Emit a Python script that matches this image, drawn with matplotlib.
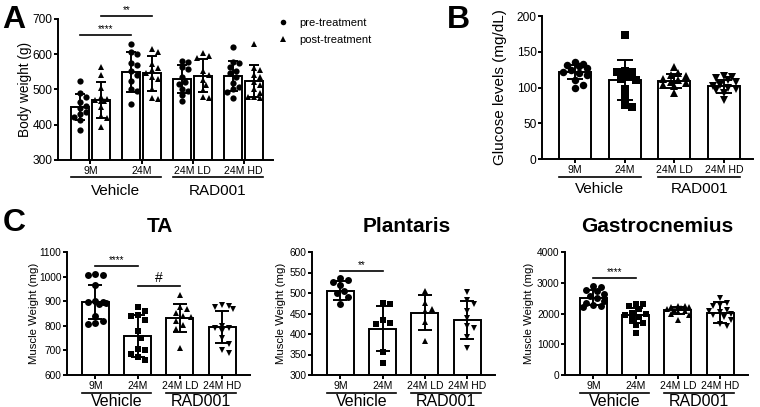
import numpy as np
import matplotlib
matplotlib.use("Agg")
import matplotlib.pyplot as plt
from matplotlib.lines import Line2D
from matplotlib.transforms import blended_transform_factory, ScaledTranslation

plt.rcParams["font.family"] = ["Liberation Sans", "DejaVu Sans"]

# ---- data ----
groups = ["9M", "24M", "24M LD", "24M HD"]
treatments = ["Vehicle", "RAD001"]

# A: body weight (g)
bw_pre_mean = [450, 550, 530, 539]
bw_pre_sd = [37, 57, 39, 42]
bw_post_mean = [470, 546, 539, 524]
bw_post_sd = [52, 49, 47, 45]
bw_pre_points = [
    [525, 489, 480, 465, 453, 447, 437, 430, 423, 413, 385],
    [630, 607, 600, 575, 570, 553, 540, 525, 500, 497, 460],
    [581, 578, 565, 558, 536, 522, 516, 500, 497, 484, 467],
    [621, 579, 575, 565, 552, 546, 536, 519, 508, 500, 494, 475],
]
bw_post_points = [
    [565, 540, 505, 480, 472, 470, 468, 466, 450, 425, 420, 395],
    [615, 607, 572, 560, 555, 548, 535, 530, 500, 475, 472],
    [603, 594, 590, 553, 541, 527, 513, 499, 478, 475],
    [628, 560, 555, 541, 536, 520, 513, 500, 490, 480, 478, 476],
]

# B: glucose (mg/dL)
glu_mean = [122, 111, 109, 102]
glu_sd = [10, 28, 10, 9]
glu_points = [
    [136, 133, 131, 130, 127, 124, 122, 120, 118, 111, 103, 100],
    [174, 123, 122, 121, 115, 112, 110, 98, 87, 75, 73],
    [129, 120, 118, 116, 112, 110, 108, 106, 104, 102, 92],
    [116, 114, 113, 110, 108, 104, 102, 100, 98, 96, 93, 82],
]

# C: muscle weights (mg)
ta_mean = [896, 759, 831, 795]
ta_sd = [70, 84, 58, 66]
ta_points = [
    [1010, 1008, 1005, 965, 895, 890, 900, 898, 892, 840, 820, 810, 808],
    [875, 860, 845, 840, 825, 778, 752, 705, 700, 685, 675, 662],
    [925, 875, 868, 852, 840, 835, 818, 805, 785, 710],
    [885, 882, 878, 868, 800, 792, 790, 778, 750, 728, 702, 688],
]
pl_mean = [506, 413, 452, 435]
pl_sd = [24, 55, 43, 46]
pl_points = [
    [536, 532, 528, 520, 505, 500, 490, 473],
    [476, 474, 433, 426, 424, 357, 330],
    [505, 475, 462, 455, 430, 382],
    [503, 482, 472, 456, 438, 420, 414, 392, 365],
]
ga_mean = [2520, 1945, 2098, 2023]
ga_sd = [230, 245, 125, 338]
ga_points = [
    [2900, 2870, 2780, 2720, 2650, 2560, 2500, 2420, 2350, 2280, 2250, 2200],
    [2320, 2300, 2250, 2150, 2030, 1990, 1950, 1880, 1820, 1700, 1620, 1380],
    [2250, 2230, 2210, 2200, 2180, 2150, 2120, 2080, 2050, 2000, 1960, 1800],
    [2520, 2350, 2270, 2250, 2100, 2080, 2050, 2000, 1950, 1900, 1800, 1650, 1600],
]
group_markers = ["o", "s", "^", "v"]

W, H = 760, 407
fig = plt.figure(figsize=(W / 100, H / 100), dpi=100)
LW = 1.4


def px_rect(left, top, right, bottom):
    return [left / W, 1 - bottom / H, (right - left) / W, (bottom - top) / H]


def swarm(values, ylim, height_px, px_per_unit, marker_px, max_px):
    """Simple beeswarm: returns x offsets in data units."""
    vals = np.asarray(values, float)
    ypx = (vals - ylim[0]) / (ylim[1] - ylim[0]) * height_px
    step = marker_px * 0.55
    cands = [0.0]
    k = 1
    while k * step <= max_px:
        cands += [k * step, -k * step]
        k += 1
    placed = []
    out = np.zeros(len(vals))
    for i in np.argsort(ypx)[::-1]:
        best, best_d = cands[0], -1
        for c in cands:
            d = min([np.hypot(c - px, ypx[i] - py) for px, py in placed] or [1e9])
            if d >= marker_px:
                best = c
                break
            if d > best_d:
                best, best_d = c, d
        placed.append((best, ypx[i]))
        out[i] = best / px_per_unit
    return out


def style(ax, xlim, ylim, yticks, ylabel, ylabel_size, ylabel_x, ytick_size, xtick_size):
    for s in ["top", "right"]:
        ax.spines[s].set_visible(False)
    for s in ["left", "bottom"]:
        ax.spines[s].set_linewidth(LW)
    ax.set_xlim(xlim)
    ax.set_ylim(ylim)
    ax.set_yticks(yticks)
    ax.tick_params(axis="both", width=LW, length=3)
    ax.tick_params(axis="y", pad=1, labelsize=ytick_size)
    ax.tick_params(axis="x", pad=1, labelsize=xtick_size)
    ax.set_ylabel(ylabel, fontsize=ylabel_size)
    ax.yaxis.set_label_coords(ylabel_x, 0.5)


def group_labels(ax, spans, line_px, text_px, fontsize):
    base = blended_transform_factory(ax.transData, ax.transAxes)
    t_line = base + ScaledTranslation(0, -line_px / 100, fig.dpi_scale_trans)
    t_text = base + ScaledTranslation(0, -text_px / 100, fig.dpi_scale_trans)
    for name, (x0, x1) in zip(treatments, spans):
        ax.plot([x0, x1], [0, 0], color="k", lw=1.2, transform=t_line, clip_on=False)
        ax.text((x0 + x1) / 2, 0, name, transform=t_text, ha="center",
                va="center", fontsize=fontsize)


def sig(ax, x0, x1, y, text, fontsize):
    ax.plot([x0, x1], [y, y], color="k", lw=1.2, clip_on=False)
    ax.annotate(text, xy=((x0 + x1) / 2, y), xytext=(0, 0.5),
                textcoords="offset points", ha="center", va="bottom",
                fontsize=fontsize, annotation_clip=False)


def single_bar_panel(ax, means, sds, points, ylim, yticks, ylabel, ylabel_size,
                     ylabel_x, xlim, width, axis_px, capsize, msize, ytick_size,
                     xtick_size, grp_size, line_px, text_px):
    x = np.arange(len(groups))
    ax.bar(x, np.array(means) - ylim[0], bottom=ylim[0], width=width,
           color="white", edgecolor="k", linewidth=LW, zorder=1)
    ax.errorbar(x, means, yerr=sds, fmt="none", ecolor="k", elinewidth=LW,
                capsize=capsize, capthick=LW, zorder=2)
    w_px, h_px = axis_px
    ppu = w_px / (xlim[1] - xlim[0])
    for i, pts in enumerate(points):
        off = swarm(pts, ylim, h_px, ppu, msize * 1.3, width * ppu * 0.42)
        ax.plot(x[i] + off, pts, group_markers[i], color="k", ms=msize,
                mew=0, zorder=3, clip_on=False)
    style(ax, xlim, ylim, yticks, ylabel, ylabel_size, ylabel_x, ytick_size, xtick_size)
    ax.set_xticks(x, groups)
    spans = [(x[0] - width / 2, x[1] + width / 2), (x[2] - width / 2, x[3] + width / 2)]
    group_labels(ax, spans, line_px, text_px, grp_size)


# ---- A: body weight ----
axA = fig.add_axes(px_rect(58, 19, 273, 160))
xA = np.arange(len(groups))
bwA, offA = 0.343, 0.21
ylimA = (300, 700)
xlimA = (-0.637, 3.578)
for means, sds, pts_all, sign, mk in [
    (bw_pre_mean, bw_pre_sd, bw_pre_points, -1, "o"),
    (bw_post_mean, bw_post_sd, bw_post_points, 1, "^"),
]:
    xs = xA + sign * offA
    axA.bar(xs, np.array(means) - ylimA[0], bottom=ylimA[0], width=bwA,
            color="white", edgecolor="k", linewidth=LW, zorder=1)
    axA.errorbar(xs, means, yerr=sds, fmt="none", ecolor="k", elinewidth=LW,
                 capsize=3.5, capthick=LW, zorder=2)
    ppu = 215 / (xlimA[1] - xlimA[0])
    for i, pts_i in enumerate(pts_all):
        off = swarm(pts_i, ylimA, 141, ppu, 5.5, 7.5)
        axA.plot(xs[i] + off, pts_i, mk, color="k", ms=4.5 if mk == "o" else 4.8,
                 mew=0, zorder=3)
style(axA, xlimA, ylimA, [300, 400, 500, 600, 700], "Body weight (g)", 9.8,
      -0.121, 8.6, 7.6)
axA.set_xticks(xA, groups)
group_labels(axA, [(-offA - bwA / 2, 1 + offA + bwA / 2),
                   (2 - offA - bwA / 2, 3 + offA + bwA / 2)], 17, 31, 11)
sig(axA, 0 - offA, 1 - offA, 655, "****", 7)
sig(axA, 0 + offA, 1 + offA, 708, "**", 7)

legend_handles = [
    Line2D([], [], marker="o", ls="none", color="k", ms=4, mew=0),
    Line2D([], [], marker="^", ls="none", color="k", ms=4, mew=0),
]
fig.legend(legend_handles, ["pre-treatment", "post-treatment"],
           loc="upper left", bbox_to_anchor=(276 / W, 1 - 18 / H), frameon=False,
           fontsize=8, handlelength=1.2, handletextpad=0.9, labelspacing=0.6,
           borderaxespad=0, borderpad=0)

# ---- B: glucose ----
axB = fig.add_axes(px_rect(542, 16, 753, 159))
single_bar_panel(axB, glu_mean, glu_sd, glu_points, (0, 200), [0, 50, 100, 150, 200],
                 "Glucose levels (mg/dL)", 11, -0.166, (-0.664, 3.58), 0.644,
                 (211, 143), 6, 5.4, 8.6, 7.6, 11, 17.5, 30)

# ---- C: muscle weights ----
c_specs = [
    (67, ta_mean, ta_sd, ta_points, (600, 1100), [600, 700, 800, 900, 1000, 1100],
     -0.152, "TA", 160),
    (312, pl_mean, pl_sd, pl_points, (300, 600), [300, 350, 400, 450, 500, 550, 600],
     -0.14, "Plantaris", 407),
    (565, ga_mean, ga_sd, ga_points, (0, 4000), [0, 1000, 2000, 3000, 4000],
     -0.169, "Gastrocnemius", 657),
]
c_axes = []
for left, means, sds, pts, ylim, yticks, ylx, title, tx in c_specs:
    ax = fig.add_axes(px_rect(left, 252, left + 183, 375))
    single_bar_panel(ax, means, sds, pts, ylim, yticks, "Muscle Weight (mg)", 8.2,
                     ylx, (-0.675, 3.66), 0.64, (183, 123), 5.2, 5, 7.3, 7.5, 11.5,
                     18, 26)
    fig.text(tx / W, 1 - 232 / H, title, ha="center", va="baseline",
             fontsize=15, weight="bold")
    c_axes.append(ax)

sig(c_axes[0], 0, 1, 1045, "****", 7)
sig(c_axes[0], 1, 2, 963, "#", 10)
sig(c_axes[1], 0, 1, 553, "**", 7)
sig(c_axes[2], 0, 1, 3170, "****", 7)

# panel letters
for letter, x, y in [("A", 2, 28), ("B", 447, 28), ("C", 3, 231)]:
    fig.text(x / W, 1 - y / H, letter, ha="left", va="baseline", fontsize=23,
             weight="bold")

fig.savefig("out.png", dpi=100)
